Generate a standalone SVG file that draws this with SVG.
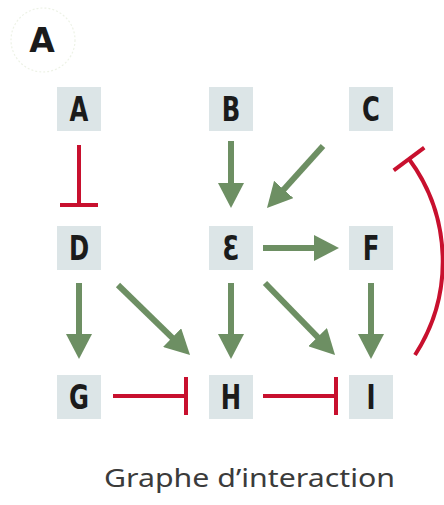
<svg xmlns="http://www.w3.org/2000/svg" width="444" height="505" viewBox="0 0 444 505">
  <style>
    .box { fill: #dce5e7; }
    .lbl { font-family: "DejaVu Sans Condensed", "DejaVu Sans", sans-serif; font-weight: bold; font-size: 33px; fill: #1b1b1b; text-anchor: middle; }
    .act { fill: none; stroke: #6d8f63; stroke-width: 6; }
    .inh { fill: none; stroke: #c8102e; stroke-width: 4; }
    .title { font-family: "Noto Sans", "Open Sans", sans-serif; font-size: 26px; fill: #3b3b3b; }
  </style>
  <defs>
    <marker id="head" markerUnits="userSpaceOnUse" viewBox="-5 -13 25 26" refX="0" refY="0" markerWidth="25" markerHeight="26" orient="auto">
      <path d="M-5,-13 L20,0 L-5,13 z" fill="#6d8f63"/>
    </marker>
    <marker id="tee" markerUnits="userSpaceOnUse" viewBox="-3 -20 6 40" refX="0" refY="0" markerWidth="6" markerHeight="40" orient="auto">
      <path d="M0,-19 L0,19" stroke="#c8102e" stroke-width="4"/>
    </marker>
  </defs>

  <!-- panel tag -->
  <g id="panel-tag">
    <circle cx="43" cy="40" r="32" fill="none" stroke="#edf2e6" stroke-width="1.2" stroke-dasharray="2 2"/>
    <text x="42" y="52" font-family="DejaVu Sans, sans-serif" font-weight="bold" font-size="33" fill="#1b1b1b" text-anchor="middle">A</text>
  </g>

  <!-- nodes -->
  <g id="node-A"><rect class="box" x="57" y="87" width="44" height="44"/><text class="lbl" transform="translate(79 121) scale(0.82 1)">A</text></g>
  <g id="node-B"><rect class="box" x="209" y="87" width="44" height="44"/><text class="lbl" transform="translate(231 121) scale(0.82 1)">B</text></g>
  <g id="node-C"><rect class="box" x="349" y="87" width="44" height="44"/><text class="lbl" transform="translate(371 121) scale(0.82 1)">C</text></g>
  <g id="node-D"><rect class="box" x="57" y="226" width="44" height="44"/><text class="lbl" transform="translate(79 260) scale(0.82 1)">D</text></g>
  <g id="node-E"><rect class="box" x="209" y="226" width="44" height="44"/><text class="lbl" transform="translate(231 260) scale(0.82 1)">Ɛ</text></g>
  <g id="node-F"><rect class="box" x="349" y="226" width="44" height="44"/><text class="lbl" transform="translate(371 260) scale(0.82 1)">F</text></g>
  <g id="node-G"><rect class="box" x="57" y="375" width="44" height="44"/><text class="lbl" transform="translate(79 409) scale(0.82 1)">G</text></g>
  <g id="node-H"><rect class="box" x="209" y="375" width="44" height="44"/><text class="lbl" transform="translate(231 409) scale(0.82 1)">H</text></g>
  <g id="node-I"><rect class="box" x="349" y="375" width="44" height="44"/><text class="lbl" transform="translate(371 409) scale(0.82 1)">I</text></g>

  <!-- connectors -->
  <g id="edges">
    <!-- activations -->
    <path class="act" d="M231,141 L231,188" marker-end="url(#head)"/>
    <path class="act" d="M323,146 L280.4,193.2" marker-end="url(#head)"/>
    <path class="act" d="M263,248 L319,248" marker-end="url(#head)"/>
    <path class="act" d="M79,283 L79,339" marker-end="url(#head)"/>
    <path class="act" d="M118,285 L175.7,341.1" marker-end="url(#head)"/>
    <path class="act" d="M231,283 L231,339" marker-end="url(#head)"/>
    <path class="act" d="M265,283 L321.1,340.7" marker-end="url(#head)"/>
    <path class="act" d="M371,283 L371,339" marker-end="url(#head)"/>
    <!-- inhibitions -->
    <path class="inh" d="M79,145 L79,205" marker-end="url(#tee)"/>
    <path class="inh" d="M113,396 L186,396" marker-end="url(#tee)"/>
    <path class="inh" d="M263,396 L336,396" marker-end="url(#tee)"/>
    <path class="inh" d="M409,159 A172,172 0 0 1 415,355" marker-start="url(#tee)"/>
  </g>

  <text class="title" x="104" y="487" textLength="291" lengthAdjust="spacingAndGlyphs">Graphe d’interaction</text>
</svg>
